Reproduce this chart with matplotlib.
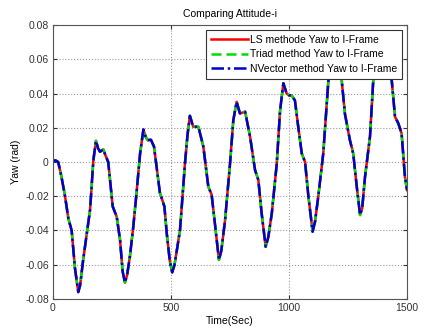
import numpy as np
import matplotlib.pyplot as plt

plt.rcParams['font.family'] = ['Liberation Sans', 'DejaVu Sans']
plt.rcParams['axes.unicode_minus'] = False

# Valeurs
temps = [0, 10, 22, 35, 51, 65, 79, 93, 107, 115, 128, 143, 157, 171, 182, 191,
         199, 213, 222, 234, 253, 270, 284, 295, 305, 314, 326, 340, 354, 369,
         383, 392, 401, 415, 428, 440, 453, 472, 482, 495, 505, 515, 538, 559,
         570, 580, 594, 616, 637, 658, 672, 686, 703, 713, 729, 750, 764, 778,
         792, 814, 835, 856, 870, 884, 901, 912, 927, 948, 962, 976, 990, 1000,
         1011, 1025, 1039, 1054, 1068, 1082, 1100, 1110, 1124, 1145, 1167, 1185,
         1200, 1223, 1237, 1258, 1272, 1287, 1301, 1310, 1322, 1343, 1357, 1380,
         1405, 1435, 1449, 1463, 1477, 1491, 1500]
yaw_ls = [0.0005, 0.001, 0.0, -0.008, -0.020, -0.033, -0.040, -0.062, -0.076,
          -0.072, -0.057, -0.042, -0.028, 0.001, 0.0124, 0.008, 0.006, 0.0074,
          0.004, 0.0, -0.026, -0.032, -0.0455, -0.064, -0.0705, -0.066, -0.055,
          -0.038, -0.018, 0.005, 0.019, 0.015, 0.0128, 0.013, 0.009, -0.004,
          -0.018, -0.026, -0.0417, -0.058, -0.0645, -0.060, -0.040, -0.001,
          0.016, 0.027, 0.0206, 0.0206, 0.009, -0.0144, -0.019, -0.036, -0.0572,
          -0.052, -0.034, -0.001, 0.0245, 0.0352, 0.0284, 0.0294, 0.0148,
          -0.0047, -0.0105, -0.030, -0.0495, -0.044, -0.030, -0.001, 0.030,
          0.046, 0.040, 0.039, 0.039, 0.036, 0.0206, 0.005, 0.0, -0.020,
          -0.0407, -0.035, -0.020, 0.005, 0.048, 0.058, 0.058, 0.048, 0.028,
          0.0128, 0.005, -0.0144, -0.031, -0.027, -0.0086, 0.0148, 0.048, 0.062,
          0.063, 0.048, 0.0265, 0.0226, 0.0167, -0.0086, -0.0164]
yaw_triad = yaw_ls
yaw_nvector = yaw_ls

xticks = [0, 500, 1000, 1500]
yticks = [-0.08, -0.06, -0.04, -0.02, 0, 0.02, 0.04, 0.06, 0.08]
ylabels = ['-0.08', '-0.06', '-0.04', '-0.02', '0', '0.02', '0.04', '0.06', '0.08']

fs = 7.5

fig, ax = plt.subplots(figsize=(4.24, 3.27), dpi=100)
fig.subplots_adjust(left=0.125, right=0.96, bottom=0.086, top=0.923)

ax.plot(temps, yaw_ls, color='red', lw=1.8, label='LS methode Yaw to I-Frame')
ax.plot(temps, yaw_triad, color='#00dd00', lw=1.8, ls=(0, (4, 2)),
        label='Triad method Yaw to I-Frame')
ax.plot(temps, yaw_nvector, color='#0000cc', lw=1.8, ls=(0, (5, 1.5, 1, 1.5)),
        label='NVector method Yaw to I-Frame')

ax.set_xlim(0, 1500)
ax.set_ylim(-0.08, 0.08)
ax.set_xticks(xticks)
ax.set_yticks(yticks)
ax.set_yticklabels(ylabels)
ax.tick_params(direction='in', top=True, right=True, length=3, labelsize=fs,
               colors='#333333', pad=3)
ax.grid(True, ls=':', color='#999999', lw=0.8)
for s in ax.spines.values():
    s.set_color('#555555')
    s.set_linewidth(0.8)

ax.set_title('Comparing Attitude-i', fontsize=fs, pad=6)
ax.set_xlabel('Time(Sec)', fontsize=fs, labelpad=2)
ax.set_ylabel('Yaw (rad)', fontsize=fs, labelpad=3)

leg = ax.legend(loc='upper right', fontsize=fs, fancybox=False, framealpha=1,
                edgecolor='#333333', handlelength=3.6, handletextpad=0.2,
                borderaxespad=0.45, borderpad=0.45, labelspacing=0.45)
leg.get_frame().set_linewidth(0.8)

plt.savefig('out.png', dpi=100)
